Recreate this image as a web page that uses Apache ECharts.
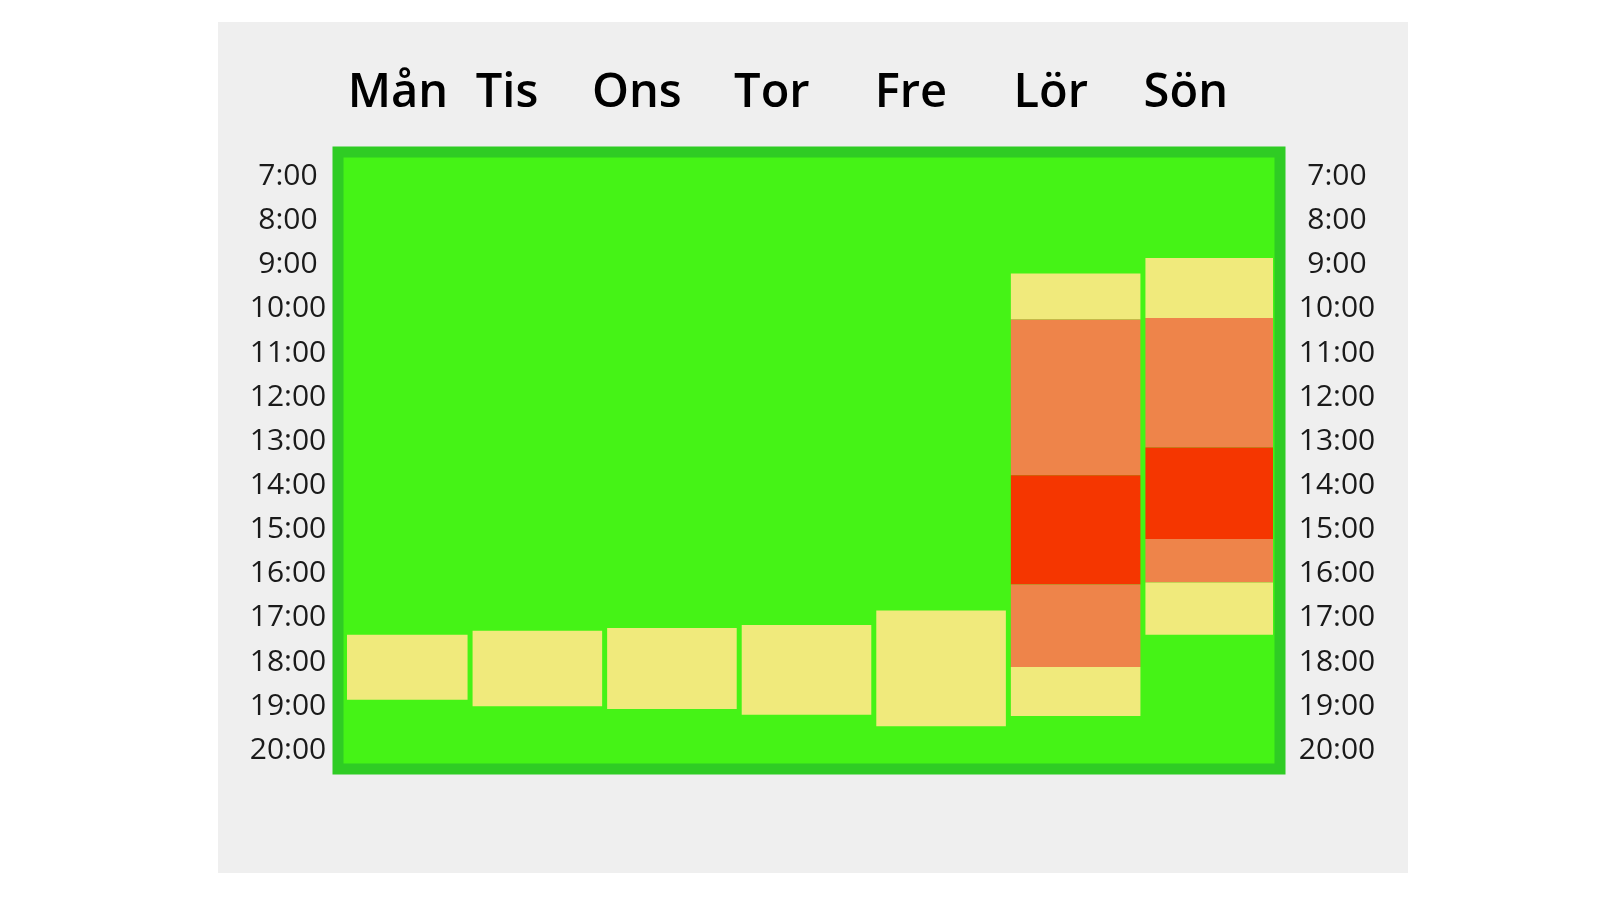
<!DOCTYPE html>
<html>
<head>
<meta charset="utf-8">
<title>Veckoschema</title>
<script src="https://cdn.jsdelivr.net/npm/echarts@6/dist/echarts.min.js"></script>
<style>
  html, body { margin: 0; padding: 0; background: #fff; }
  #panel { position: absolute; left: 218px; top: 22px; width: 1190px; height: 851px; background: #efefef; }
  #main { position: absolute; left: 0; top: 0; width: 1600px; height: 900px; }
</style>
</head>
<body>
<div id="panel"></div>
<div id="main"></div>
<script>
// dagar och timmar
var days = ['Mån', 'Tis', 'Ons', 'Tor', 'Fre', 'Lör', 'Sön']
var hours = [7, 8, 9, 10, 11, 12, 13, 14, 15, 16, 17, 18, 19, 20]

// block: dag, från (timme), till (timme), nivå (1 gul, 2 orange, 3 röd)
var segDay   = [0, 1, 2, 3, 4, 5, 5, 5, 5, 5, 6, 6, 6, 6, 6]
var segFrom  = [17.38, 17.29, 17.23, 17.16, 16.83, 9.2, 10.24, 13.77, 16.24, 18.11, 8.85, 10.21, 13.14, 15.21, 16.2]
var segTo    = [18.85, 19.0, 19.06, 19.19, 19.45, 10.24, 13.77, 16.24, 18.11, 19.22, 10.21, 13.14, 15.21, 16.2, 17.38]
var segLevel = [1, 1, 1, 1, 1, 1, 2, 3, 2, 1, 1, 2, 3, 2, 1]

// var dagnamnen sitter (i kolumnenheter), de står inte mitt över kolumnerna
var dayLabelAt = [0.446, 1.256, 2.221, 3.224, 4.257, 5.297, 6.30]

var levelColors = { 1: '#f0ea7c', 2: '#ee844a', 3: '#f53600' }

var seriesData = segDay.map(function (d, i) {
  return [d, segFrom[i], segTo[i], segLevel[i]]
})

var chart = echarts.init(document.getElementById('main'))

var hourAxis = function (pos, margin) {
  return {
    type: 'value',
    position: pos,
    inverse: true,
    min: 6.45,
    max: 20.42,
    axisLine: { show: false },
    axisTick: { show: false },
    splitLine: { show: false },
    axisLabel: {
      customValues: hours,
      align: 'center',
      margin: margin,
      fontFamily: 'Open Sans',
      fontSize: 30,
      color: '#1a1a1a',
      formatter: function (v) { return v + ':00' }
    }
  }
}

chart.setOption({
  animation: false,
  grid: {
    left: 338,
    top: 152,
    width: 942,
    height: 617,
    show: true,
    borderWidth: 0,
    backgroundColor: '#45f316'
  },
  xAxis: {
    type: 'value',
    position: 'top',
    min: 0,
    max: 7,
    axisLine: { show: false },
    axisTick: { show: false },
    splitLine: { show: false },
    axisLabel: {
      customValues: dayLabelAt,
      margin: 35,
      fontFamily: 'Open Sans',
      fontWeight: 600,
      fontSize: 47,
      color: '#000',
      formatter: function (v) {
        var i = dayLabelAt.indexOf(v)
        return i >= 0 ? days[i] : ''
      }
    }
  },
  yAxis: [hourAxis('left', 50), hourAxis('right', 57)],
  graphic: [{
    type: 'rect',
    z: 100,
    shape: { x: 338, y: 152, width: 942, height: 617 },
    style: { fill: 'transparent', stroke: '#2fcc24', lineWidth: 11 }
  }],
  series: [{
    type: 'custom',
    data: seriesData,
    renderItem: function (params, api) {
      var d = api.value(0)
      var p0 = api.coord([d, api.value(1)])
      var p1 = api.coord([d + 1, api.value(2)])
      var cs = params.coordSys
      var x0 = Math.max(p0[0], cs.x + 9)
      var x1 = Math.min(p1[0] - 5, cs.x + cs.width - 7)
      return {
        type: 'rect',
        shape: { x: x0, y: p0[1], width: x1 - x0, height: p1[1] - p0[1] },
        style: { fill: levelColors[api.value(3)] }
      }
    }
  }]
})
</script>
</body>
</html>
